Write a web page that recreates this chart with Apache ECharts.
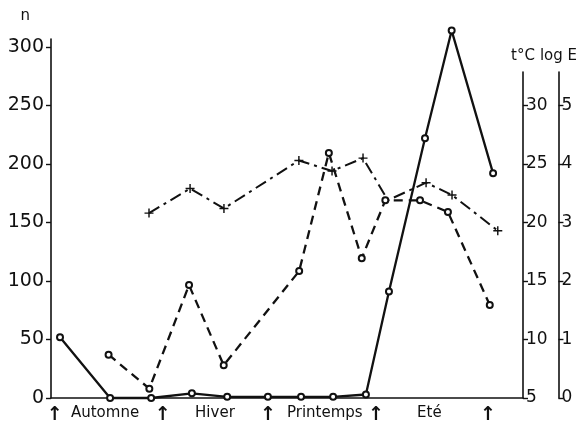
<!DOCTYPE html>
<html><head><meta charset="utf-8">
<script src="https://cdn.jsdelivr.net/npm/echarts@6/dist/echarts.min.js"></script>
<style>html,body{margin:0;padding:0;background:#fff}#c{width:580px;height:427px}</style>
</head><body><div id="c"></div>
<script>
// x values are in months from the start of autumn
const nMonths = [0.15, 1.54, 2.68, 3.81, 4.79, 5.92, 6.84, 7.73, 8.64, 9.28, 10.28, 11.02, 12.17];
const nValues = [52, 0, 0, 4, 1, 1, 1, 1, 3, 91, 222, 314, 192];
const logEMonths = [1.51, 2.65, 3.76, 4.73, 6.84, 7.67, 8.59, 9.25, 10.22, 11.0, 12.17];
const logEValues = [0.74, 0.16, 1.93, 0.56, 2.17, 4.19, 2.39, 3.38, 3.38, 3.18, 1.59];
const tempMonths = [2.62, 3.76, 4.70, 6.78, 7.70, 8.56, 9.25, 10.31, 11.03, 12.30];
const tempValues = [20.8, 22.9, 21.2, 25.3, 24.4, 25.5, 21.9, 23.4, 22.35, 19.3];
const nTicks = [0, 50, 100, 150, 200, 250, 300];
const tempTicks = [5, 10, 15, 20, 25, 30];
const logETicks = [0, 1, 2, 3, 4, 5];
const seasonArrowPos = [0, 3, 5.92, 8.92, 12.03];
const seasonNames = ['Automne', 'Hiver', 'Printemps', 'Eté'];
const seasonNamePos = [1.4, 4.45, 7.5, 10.4];

const INK = '#111';
const FONT = 'DejaVu Sans';
const pair = (xs, ys) => xs.map((x, i) => [x, ys[i]]);

const xBase = {type: 'value', min: -0.1, max: 13.0};
const hiddenX = (g) => Object.assign({}, xBase, {gridIndex: g, show: false});

const yCommon = (ticks, size, margin) => ({
  splitLine: {show: false},
  axisLine: {show: true, onZero: false, lineStyle: {color: INK, width: 1.6}},
  axisTick: {show: true, inside: false, length: 5, customValues: ticks, lineStyle: {color: INK, width: 1.4}},
  axisLabel: {customValues: ticks, color: INK, fontFamily: FONT, fontSize: size, margin: margin},
  nameTextStyle: {color: INK, fontFamily: FONT, fontSize: 15}
});

const plusPath = 'path://M4.2,0h1.6v4.2h4.2v1.6h-4.2v4.2h-1.6v-4.2h-4.2v-1.6h4.2z';

const option = {
  animation: false,
  backgroundColor: '#fff',
  grid: [
    {left: 51, right: 57, top: 39, bottom: 29},
    {left: 51, right: 57, top: 72, bottom: 29},
    {left: 51, right: 57, top: 72, bottom: 29}
  ],
  xAxis: [
    Object.assign({}, xBase, {
      gridIndex: 0,
      splitLine: {show: false},
      axisLine: {show: true, onZero: false, lineStyle: {color: INK, width: 1.6}},
      axisTick: {show: false},
      axisLabel: {
        customValues: seasonArrowPos.concat(seasonNamePos),
        color: INK, fontFamily: FONT, fontSize: 15, margin: 8,
        formatter: function (v) {
          const j = seasonNamePos.indexOf(v);
          return j >= 0 ? seasonNames[j] : '{a|↑}';
        },
        rich: {a: {fontFamily: FONT, fontSize: 19, fontWeight: 'bold', color: INK}}
      }
    }),
    hiddenX(1),
    hiddenX(2)
  ],
  yAxis: [
    Object.assign(yCommon(nTicks, 19, 7), {
      type: 'value', gridIndex: 0, position: 'left', min: 0, max: 306.8,
      name: 'n', nameLocation: 'end', nameGap: 15,
      nameTextStyle: {color: INK, fontFamily: FONT, fontSize: 15, align: 'right', padding: [0, 21, 0, 0]}
    }),
    Object.assign(yCommon(tempTicks, 17, 3), {
      type: 'value', gridIndex: 1, position: 'right', min: 5, max: 32.86,
      name: 't°C', nameLocation: 'end', nameGap: 8
    }),
    Object.assign(yCommon(logETicks, 17, 3), {
      type: 'value', gridIndex: 2, position: 'right', offset: 39, min: 0, max: 5.573,
      name: 'log E', nameLocation: 'end', nameGap: 8
    })
  ],
  series: [
    {
      name: 'n', type: 'line', xAxisIndex: 0, yAxisIndex: 0, clip: false, z: 4,
      data: pair(nMonths, nValues),
      symbol: 'emptyCircle', symbolSize: 6,
      lineStyle: {color: INK, width: 2.3},
      itemStyle: {color: INK, borderWidth: 1.5}
    },
    {
      name: 'log E', type: 'line', xAxisIndex: 2, yAxisIndex: 2, clip: false, z: 3,
      data: pair(logEMonths, logEValues),
      symbol: 'emptyCircle', symbolSize: 6,
      lineStyle: {color: INK, width: 2.3, type: [9, 6]},
      itemStyle: {color: INK, borderWidth: 1.5}
    },
    {
      name: 't°C', type: 'line', xAxisIndex: 1, yAxisIndex: 1, clip: false, z: 2,
      data: pair(tempMonths, tempValues).map((p, i) => i === 6 ? {value: p, symbol: 'none'} : p),
      symbol: plusPath, symbolSize: 9,
      lineStyle: {color: INK, width: 2, type: [12, 5, 3, 5]},
      itemStyle: {color: INK}
    }
  ]
};

const chart = echarts.init(document.getElementById('c'), null, {renderer: 'canvas'});
chart.setOption(option);
</script>
</body></html>
